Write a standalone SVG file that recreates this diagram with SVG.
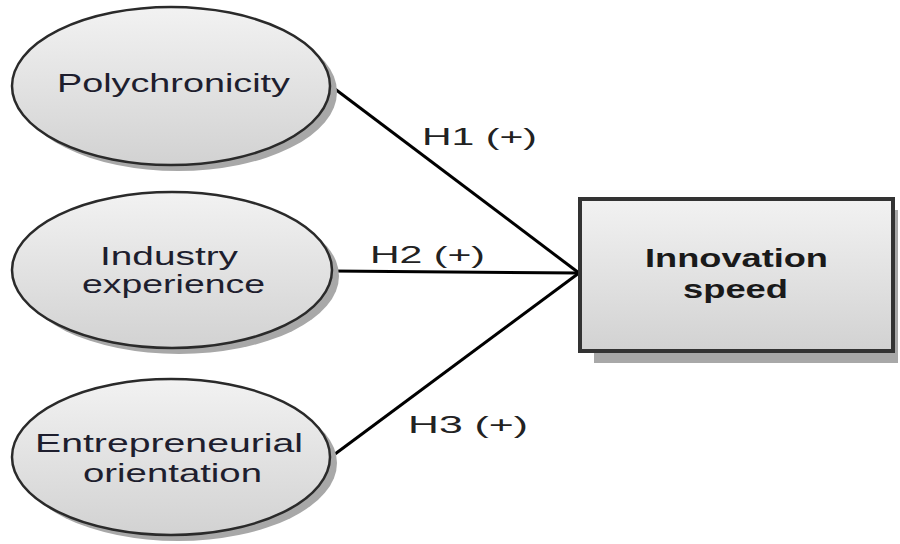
<svg xmlns="http://www.w3.org/2000/svg" width="900" height="544" viewBox="0 0 900 544">
<defs>
<linearGradient id="g" x1="0" y1="0" x2="0" y2="1">
<stop offset="0" stop-color="#f2f2f2"/>
<stop offset="1" stop-color="#d2d2d2"/>
</linearGradient>
<style>
.sh{fill:#a8a8a8;}
.el{fill:url(#g);stroke:#2a2a2a;stroke-width:2.5;}
.bx{fill:url(#g);stroke:#333;stroke-width:4;}
.t{font-family:"Liberation Sans",Arial,sans-serif;font-size:26px;fill:#1e1e2e;}
.b{font-family:"Liberation Sans",Arial,sans-serif;font-size:25px;font-weight:bold;fill:#1a1a1a;}
.h{font-family:"Liberation Sans",Arial,sans-serif;font-size:24px;fill:#222;}
.c{stroke:#000;stroke-width:3;fill:none;}
</style>
</defs>
<rect width="900" height="544" fill="#fff"/>
<g id="connectors">
<line class="c" x1="331" y1="86" x2="579" y2="273"/>
<line class="c" x1="332" y1="271" x2="579" y2="273"/>
<line class="c" x1="331" y1="457" x2="579" y2="273"/>
<text class="h" x="422" y="145" textLength="115" lengthAdjust="spacingAndGlyphs">H1 (+)</text>
<text class="h" x="370" y="263" textLength="115" lengthAdjust="spacingAndGlyphs">H2 (+)</text>
<text class="h" x="408" y="433" textLength="120" lengthAdjust="spacingAndGlyphs">H3 (+)</text>
</g>
<g id="polychronicity">
<ellipse class="sh" cx="178" cy="92" rx="159" ry="79"/>
<ellipse class="el" cx="171" cy="86" rx="159" ry="79"/>
<text class="t" x="57" y="92" textLength="233" lengthAdjust="spacingAndGlyphs">Polychronicity</text>
</g>
<g id="industry-experience">
<ellipse class="sh" cx="179" cy="276" rx="160" ry="78"/>
<ellipse class="el" cx="172" cy="270" rx="160" ry="78"/>
<text class="t" x="100" y="265" textLength="138" lengthAdjust="spacingAndGlyphs">Industry</text>
<text class="t" x="82" y="293" textLength="183" lengthAdjust="spacingAndGlyphs">experience</text>
</g>
<g id="entrepreneurial-orientation">
<ellipse class="sh" cx="178" cy="463" rx="159" ry="78"/>
<ellipse class="el" cx="171" cy="457" rx="159" ry="78"/>
<text class="t" x="35" y="452" textLength="268" lengthAdjust="spacingAndGlyphs">Entrepreneurial</text>
<text class="t" x="83" y="482" textLength="179" lengthAdjust="spacingAndGlyphs">orientation</text>
</g>
<g id="innovation-speed">
<rect class="sh" x="594" y="210" width="304" height="153"/>
<rect class="bx" x="580" y="199" width="313" height="152"/>
<text class="b" x="645" y="267" textLength="183" lengthAdjust="spacingAndGlyphs">Innovation</text>
<text class="b" x="683" y="298" textLength="105" lengthAdjust="spacingAndGlyphs">speed</text>
</g>
</svg>
